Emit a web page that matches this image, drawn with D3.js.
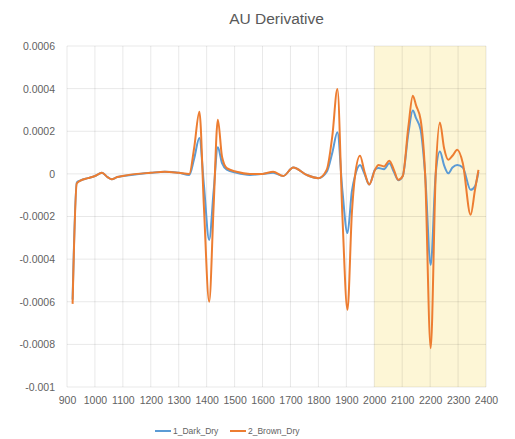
<!DOCTYPE html>
<html>
<head>
<meta charset="utf-8">
<script src="https://cdn.jsdelivr.net/npm/d3@7"></script>
<style>
  body { margin: 0; background: #fff; }
  svg text { font-family: "Liberation Sans", Arial, sans-serif; fill: #626262; }
</style>
</head>
<body>
<script>
// wavelengths (nm)
var wavelengths = [920, 935, 950, 975, 1000, 1025, 1045, 1060, 1080, 1100, 1150, 1200, 1250, 1300, 1338,
  1355, 1374, 1390, 1409, 1425, 1440, 1455, 1472, 1507, 1555, 1600, 1638, 1674, 1710, 1758, 1800,
  1830, 1850, 1868, 1886, 1904, 1920, 1931, 1949, 1965, 1982, 2003, 2015, 2035, 2054, 2070, 2086,
  2102, 2122, 2138, 2150, 2166, 2182, 2202, 2220, 2235, 2250, 2265, 2280, 2297, 2317, 2345, 2360, 2373];

// values in units of 1e-4
var darkDry = [-5.9, -0.4, -0.3, -0.2, -0.1, 0.05, -0.15, -0.25, -0.15, -0.1, -0.02, 0.05, 0.1, 0.05, -0.05,
  0.7, 1.68, -0.5, -3.1, -0.8, 1.25, 0.5, 0.2, 0.05, -0.05, 0, 0.05, -0.1, 0.3, -0.05, -0.2,
  0.1, 1.0, 1.95, -0.8, -2.78, -0.8, -0.1, 0.42, 0.0, -0.5, 0.2, 0.27, 0.22, 0.5, 0.1, -0.3,
  -0.1, 1.9, 2.97, 2.6, 2.07, 0, -4.27, 0, 1.05, 0.4, 0.03, 0.3, 0.42, 0.3, -0.75, -0.6, 0.1];

var brownDry = [-6.1, -0.45, -0.3, -0.2, -0.1, 0.05, -0.15, -0.25, -0.15, -0.1, 0, 0.05, 0.1, 0.05, 0.0,
  1.2, 2.92, -1.5, -6.0, -1.5, 2.54, 0.8, 0.27, 0.1, 0, 0, 0.1, -0.1, 0.3, -0.05, -0.2,
  0.2, 1.8, 3.98, -2.0, -6.38, -1.8, -0.1, 0.85, 0.1, -0.5, 0.2, 0.42, 0.35, 0.62, 0.2, -0.28,
  -0.1, 2.2, 3.66, 3.2, 2.54, 0, -8.18, 0, 2.41, 1.2, 0.66, 0.85, 1.13, 0.5, -1.92, -0.8, 0.19];

var seriesNames = ["1_Dark_Dry", "2_Brown_Dry"];
var seriesColors = ["#5b9bd5", "#ed7d31"];
var xTicks = d3.range(900, 2401, 100);
var yTicks = [0.0006, 0.0004, 0.0002, 0, -0.0002, -0.0004, -0.0006, -0.0008, -0.001];
var shadeRange = [2000, 2400];

var width = 515, height = 439;
var margin = {left: 67, right: 29, top: 46, bottom: 52};

var svg = d3.select("body").append("svg")
  .attr("width", width)
  .attr("height", height);

var x = d3.scaleLinear().domain([900, 2400]).range([margin.left, width - margin.right]);
var y = d3.scaleLinear().domain([-0.001, 0.0006]).range([height - margin.bottom, margin.top]);

// shaded band
svg.append("rect")
  .attr("x", x(shadeRange[0]))
  .attr("y", y(0.0006))
  .attr("width", x(shadeRange[1]) - x(shadeRange[0]))
  .attr("height", y(-0.001) - y(0.0006))
  .attr("fill", "#fdf6d6");

// grid
svg.append("g").selectAll("line.h")
  .data(yTicks).enter().append("line")
  .attr("x1", x(900)).attr("x2", x(2400))
  .attr("y1", function(d){ return y(d); }).attr("y2", function(d){ return y(d); })
  .attr("stroke", "#000").attr("stroke-opacity", 0.09);

svg.append("g").selectAll("line.v")
  .data(xTicks).enter().append("line")
  .attr("x1", function(d){ return x(d); }).attr("x2", function(d){ return x(d); })
  .attr("y1", y(0.0006)).attr("y2", y(-0.001))
  .attr("stroke", "#000").attr("stroke-opacity", 0.09);

// axes labels
var yAxis = d3.axisLeft(y).tickValues(yTicks).tickSize(0).tickPadding(12)
  .tickFormat(function(d){ return d === 0 ? "0" : String(+d.toFixed(4)); });
var gy = svg.append("g").attr("transform", "translate(" + margin.left + ",0)").call(yAxis);
gy.select(".domain").remove();
gy.selectAll("text").style("font-size", "10.5px");

var xAxis = d3.axisBottom(x).tickValues(xTicks).tickSize(0).tickPadding(10)
  .tickFormat(d3.format("d"));
var gx = svg.append("g").attr("transform", "translate(0," + y(-0.001) + ")").call(xAxis);
gx.select(".domain").remove();
gx.selectAll("text").style("font-size", "10.5px");

// lines
var series = [darkDry, brownDry];
var line = d3.line()
  .x(function(d, i){ return x(wavelengths[i]); })
  .y(function(d){ return y(d * 1e-4); })
  .curve(d3.curveMonotoneX);

svg.append("g").selectAll("path")
  .data(series).enter().append("path")
  .attr("d", line)
  .attr("fill", "none")
  .attr("stroke", function(d, i){ return seriesColors[i]; })
  .attr("stroke-width", 2)
  .attr("stroke-linejoin", "round");

// title
svg.append("text")
  .attr("x", (x(900) + x(2400)) / 2)
  .attr("y", 24)
  .attr("text-anchor", "middle")
  .style("font-size", "15.5px")
  .style("fill", "#595959")
  .text("AU Derivative");

// legend
var legendX = [155, 230];
var lg = svg.append("g").selectAll("g")
  .data(seriesNames).enter().append("g")
  .attr("transform", function(d, i){ return "translate(" + legendX[i] + ",431)"; });
lg.append("line")
  .attr("x1", 0).attr("x2", 16)
  .attr("stroke", function(d, i){ return seriesColors[i]; })
  .attr("stroke-width", 2);
lg.append("text")
  .attr("x", 18).attr("y", 3)
  .style("font-size", "8.5px")
  .text(function(d){ return d; });
</script>
</body>
</html>
